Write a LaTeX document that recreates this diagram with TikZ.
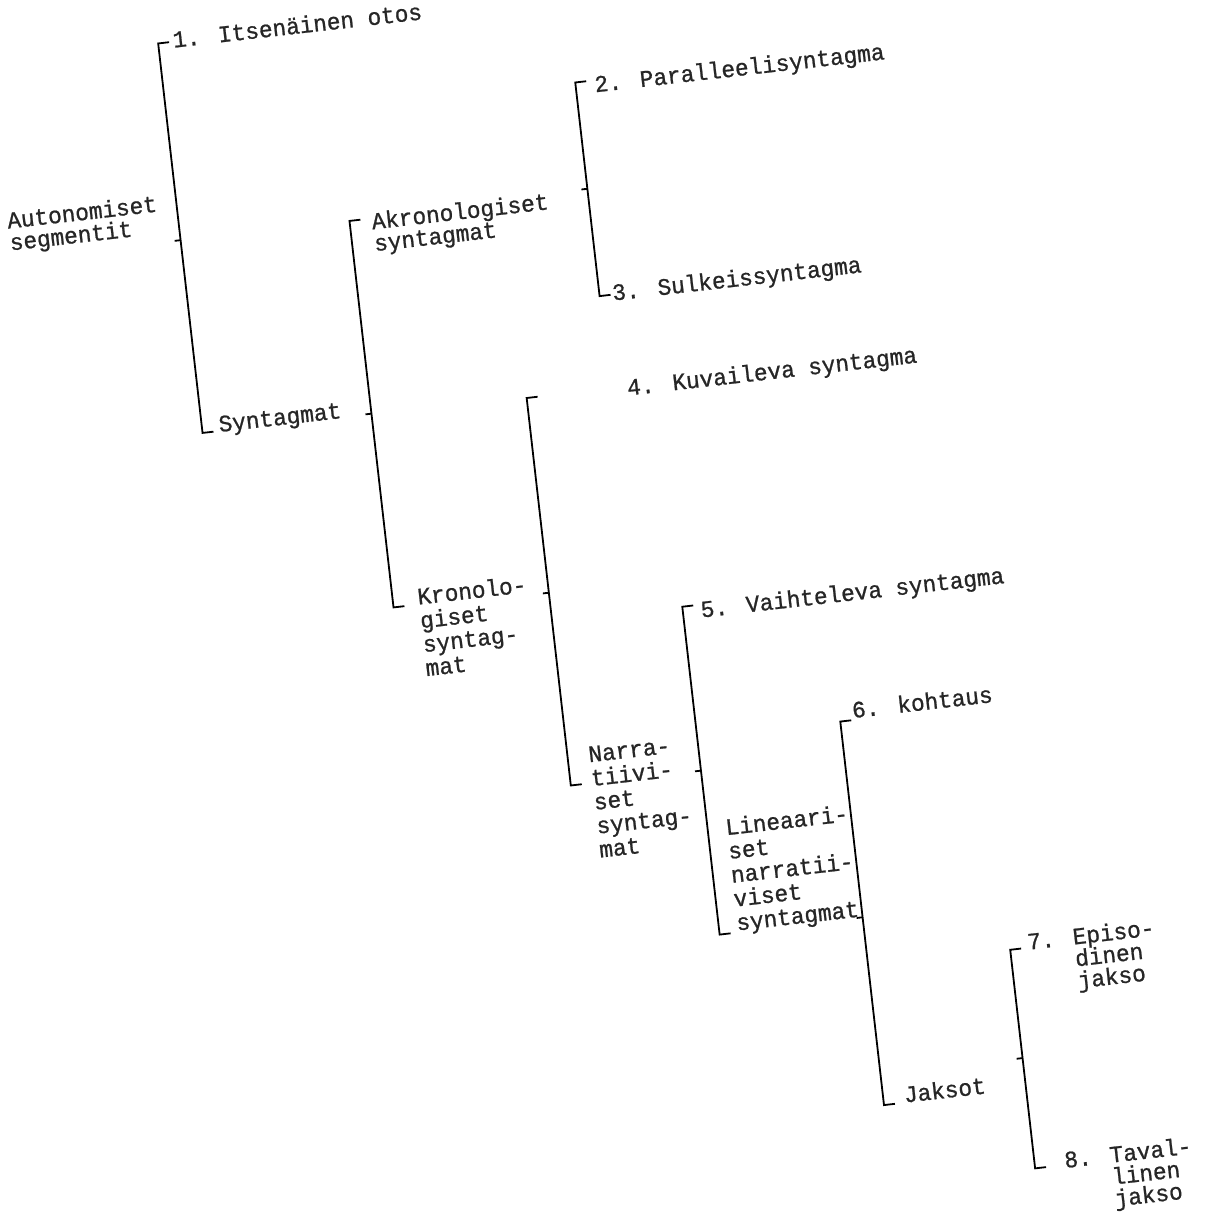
\documentclass[tikz,border=0pt]{standalone}
\usepackage{fontspec}
\newfontfamily\tw{Liberation Mono}[FakeStretch=0.965, FakeBold=0.9]
\begin{document}
\begin{tikzpicture}[x=0.5pt,y=-0.5pt,
  brk/.style={line width=0.9pt, line cap=butt, line join=miter},
  lbl/.style={anchor=base west, inner sep=0pt, outer sep=0pt, align=left,
    font=\tw\fontsize{11.8}{12}\selectfont, text=black!85},
  lbltight/.style={lbl, font=\tw\fontsize{11.8}{11}\selectfont}]
\useasboundingbox (0,0) rectangle (1204,1214);
\begin{scope}[rotate around={6.5:(600,600)}, transform shape]
% ---------- bracket corners ----------
\coordinate (At) at (224,-3);   \coordinate (Ab) at (224,389);  \coordinate (Am) at (224,195);
\coordinate (Bt) at (394,195);  \coordinate (Bb) at (394,584);  \coordinate (Bm) at (394,389);
\coordinate (Gt) at (634,83);   \coordinate (Gb) at (634,298);  \coordinate (Gm) at (634,190);
\coordinate (Ct) at (550,391);  \coordinate (Cb) at (550,781);  \coordinate (Cm) at (550,587);
\coordinate (Dt) at (681,616);  \coordinate (Db) at (681,946);  \coordinate (Dm) at (681,781);
\coordinate (Et) at (825,748);  \coordinate (Eb) at (825,1134); \coordinate (Em) at (825,945);
\coordinate (Ft) at (968,994);  \coordinate (Fb) at (968,1214); \coordinate (Fm) at (968,1103);
% ---------- brackets ----------
\foreach \b in {A,B,G,C,D,E,F}{
  \draw[brk] (\b t) ++(11,0) -- (\b t) -- (\b b) -- ++(11,0);
  \draw[brk] (\b m) -- ++(-6,0);
}
% ---------- labels (multi-line nodes: anchor on last line) ----------
\node[lbltight] (aut) at (54,186) {Autonomiset\\segmentit};
\node[lbl] (t1) at (239,3) {1. Itsenäinen otos};
\node[lbl] (synt) at (241,390) {Syntagmat};
\node[lbltight] (akr) at (416,228) {Akronologiset\\syntagmat};
\node[lbl] (t2) at (653,95) {2. Paralleelisyntagma};
\node[lbl] (t3) at (647,304) {3. Sulkeissyntagma};
\node[lbl] (kr) at (419,656) {Kronolo-\\giset\\syntag-\\mat};
\node[lbl] (t4) at (651,400) {4. Kuvaileva syntagma};
\node[lbl] (na) at (571,856) {Narra-\\tiivi-\\set\\syntag-\\mat};
\node[lbl] (t5) at (699,629) {5. Vaihteleva syntagma};
\node[lbl] (li) at (699,944) {Lineaari-\\set\\narratii-\\viset\\syntagmat};
\node[lbl] (t6) at (838,746) {6. kohtaus};
\node[lbl] (jak) at (846,1134) {Jaksot};
\node[lbltight] (t7) at (986,1040) {7. Episo-\\\phantom{7. }dinen\\\phantom{7. }jakso};
\node[lbltight] (t8) at (998,1261) {8. Taval-\\\phantom{8. }linen\\\phantom{8. }jakso};
\end{scope}
\end{tikzpicture}
\end{document}
